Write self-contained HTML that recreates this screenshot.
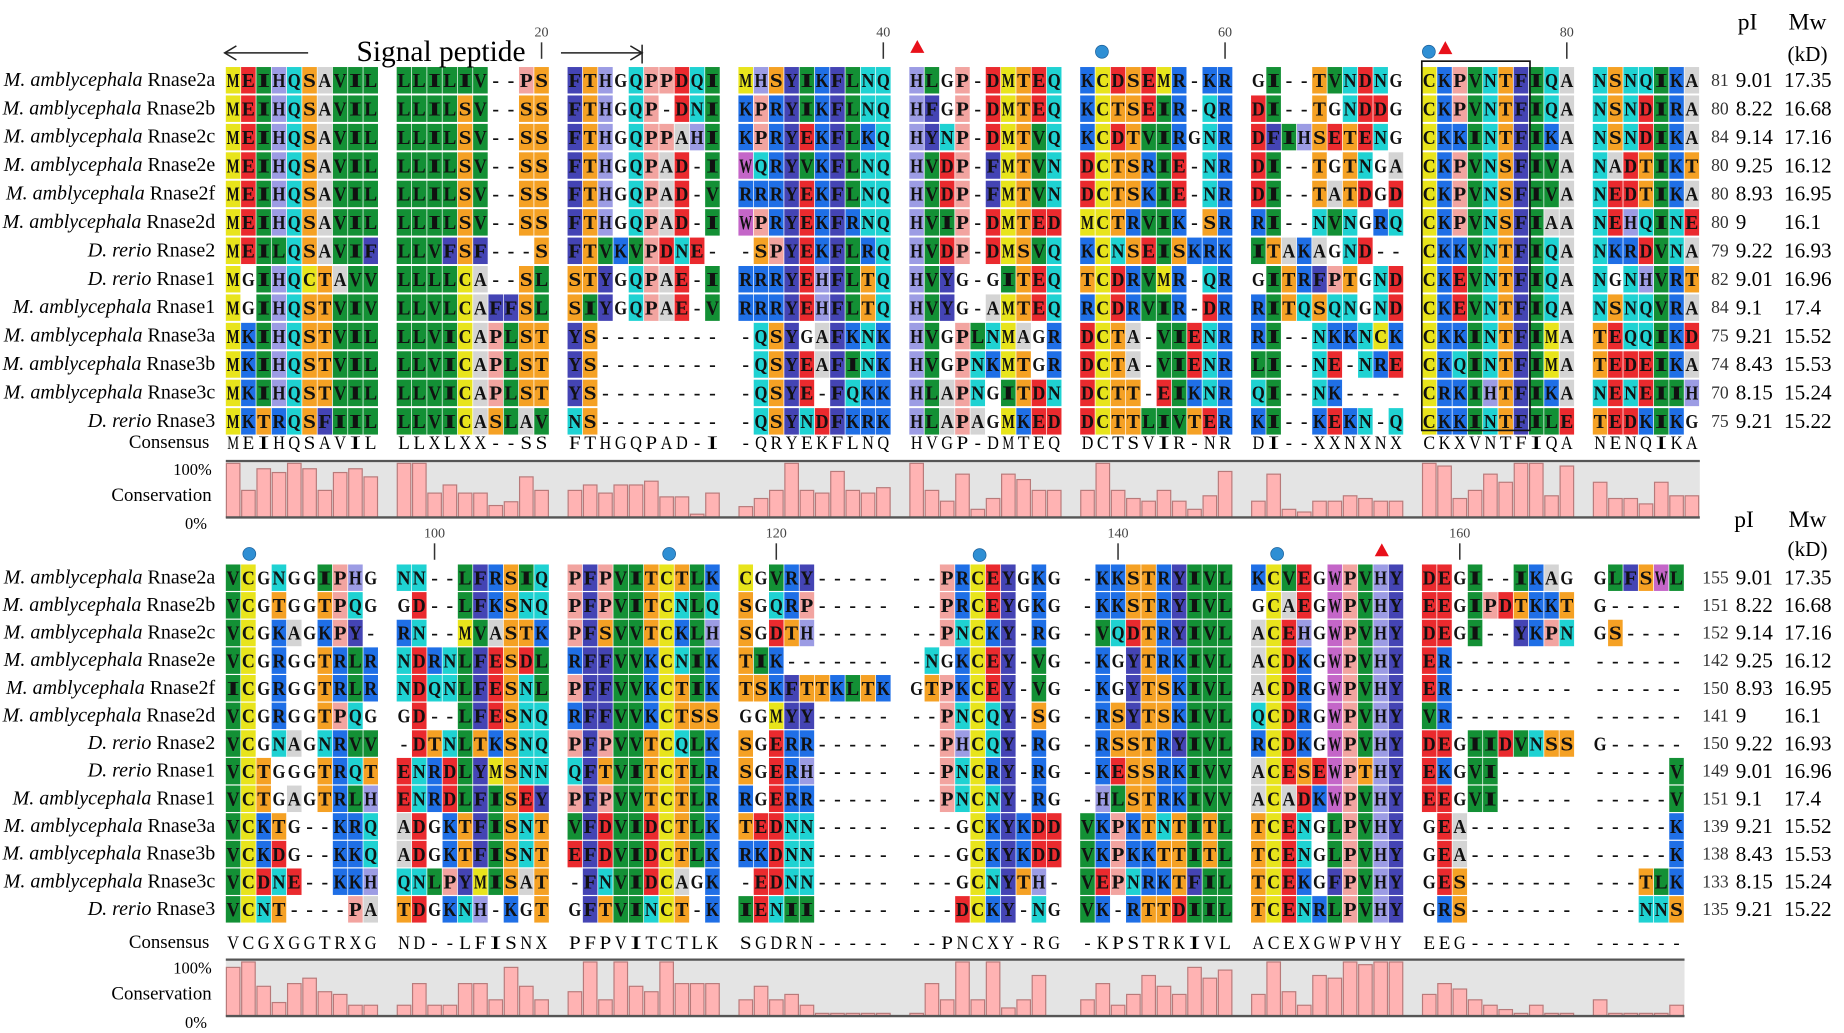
<!DOCTYPE html>
<html><head><meta charset="utf-8">
<style>
html,body{margin:0;padding:0;background:#fff;}
svg{display:block;}
</style></head>
<body>
<svg id="fig" xmlns="http://www.w3.org/2000/svg" width="1844" height="1033" viewBox="0 0 1568 878.4" font-family="'Liberation Serif', serif">
<g id="layer"></g>
</svg>
<script>
// ---- data ----
const species = [["M. amblycephala","Rnase2a"],["M. amblycephala","Rnase2b"],["M. amblycephala","Rnase2c"],["M. amblycephala","Rnase2e"],["M. amblycephala","Rnase2f"],["M. amblycephala","Rnase2d"],["D. rerio","Rnase2"],["D. rerio","Rnase1"],["M. amblycephala","Rnase1"],["M. amblycephala","Rnase3a"],["M. amblycephala","Rnase3b"],["M. amblycephala","Rnase3c"],["D. rerio","Rnase3"]];
const pI = ["9.01","8.22","9.14","9.25","8.93","9","9.22","9.01","9.1","9.21","8.43","8.15","9.21"];
const mw = ["17.35","16.68","17.16","16.12","16.95","16.1","16.93","16.96","17.4","15.52","15.53","15.24","15.22"];
const counts1 = ["81","80","84","80","80","80","79","82","84","75","74","70","75"];
const counts2 = ["155","151","152","142","150","141","150","149","151","139","138","133","135"];
const seq1 = [
"MEIHQSAVIL LLILIV--PS FTHGQPPDQI MHSYIKFLNQ HLGP-DMTEQ KCDSEMR-KR GI--TVNDNG CKPVNTFIQA NSNQIKA",
"MEIHQSAVIL LLILSV--SS FTHGQP-DNI KPRYIKFLNQ HFGP-DMTEQ KCTSEIR-QR DI--TGNDDG CKPVNTFIQA NSNDIRA",
"MEIHQSAVIL LLILSV--SS FTHGQPPAHI KPRYEKFLKQ HYNP-DMTVQ KCDTVIRGNR DFIHSETENG CKKINTFIKA NSNDIKA",
"MEIHQSAVIL LLILSV--SS FTHGQPAD-I WQRYVKFLNQ HVDP-FMTVN DCTSRIE-NR DI--TGTNGA CKPVNSFIVA NADTIKT",
"MEIHQSAVIL LLILSV--SS FTHGQPAD-V RRRYEKFLNQ HVDP-FMTVN DCTSKIE-NR DI--TATDGD CKPVNSFIVA NEDTIKA",
"MEIHQSAVIL LLILSV--SS FTHGQPAD-I WPRYEKFRNQ HVIP-DMTED MCTRVIK-SR RI--NVNGRQ CKPVNSFIAA NEHQINE",
"MEILQSAVIF LLVFSF---S FTVKVPDNE- -SPYEKFLRQ HVDP-DMSVQ KCNSEISKRK ITAKAGND-- CKKVNTFIQA NKRDVNA",
"MGIHQCTAVV LLLLCA--SL STYGQPAE-I RRRYEHFLTQ HVYG-GITEQ TCDRVMR-QR GITRFPTGND CKEVNTFIQA NGNHVRT",
"MGIHQSTVIV LLVLCAFFSL SIYGQPAE-V RRRYEHFLTQ HVYG-AMTEQ RCDRVIR-DR RITQSQNGND CKEVNTFIQA NSNQVRA",
"MKIHQSTVIL LLVICAPLST YS-------- -QSYGAFKNK HVGPLNMAGR DCTA-VIENR RI--NKKNCK CKKINTFIMA TEQQIKD",
"MKIHQSTVIL LLVICAPLST YS-------- -QSYEAFINK HVGPNKMTGR DCTA-VIENR LI--NE-NRE CKQINTFIMA TEDEIKA",
"MKIHQSTVIL LLVICAPLST YS-------- -QSYE-FQKK HLAPNGITDN DCTT-EIKNR QI--NK---- CRKIHTFIKA NENEIIH",
"MKTRQSFIIL LLVICASLAV NS-------- -QSYNDFKRK HLAPAGMKED DCTTLIVTER KI--KEKN-Q CKKINTFILE TEDKIKG"];
const seq2 = [
"VCGNGGIPHG NN--LFRSIQ PFPVITCTLK CGVRY----- --PRCEYGKG -KKSTRYIVL KCVEGWPVHY DEGI--IKAG GLFSWL",
"VCGTGGTPQG GD--LFKSNQ PFPVITCNLQ SGQRP----- --PRCEYGKG -KKSTRYIVL GCAEGWPVHY EEGIPDTKKT G-----",
"VCGKAGKPY- RN--MVASTK PFSVVTCKLH SGDTH----- --PNCKY-RG -VQDTRYIVL ACEHGWPVHY DEGI--YKPN GS----",
"VCGRGGTRLR NDRNLFESDL RFFVVKCNIK TIK------- -NGKCEY-VG -KGYTRKIVL ACDKGWPVHY ER-------- ------",
"ICGRGGTRLR NDQNLFESNL PFFVVKCTIK TSKFTTKLTK GTPKCEY-VG -KGYTSKIVL ACDRGWPVHY ER-------- ------",
"VCGRGGTPQG GD--LFESNQ RFFVVKCTSS GGMYY----- --PNCQY-SG -RSYTSKIVL QCDRGWPVHY VR-------- ------",
"VCGNAGNRVV -DTNLTKSNQ PFPVVTCQLK SGERR----- --PHCQY-RG -RSSTRYIVL RCDKGWPVHY DEGIIDVNSS G-----",
"VCTGGGTRQT ENRDLYMSNN QFTVITCTLR SGERH----- --PNCRY-RG -KESSRKIVV ACESEWPTHY EKGVI----- -----V",
"VCTGAGTRLH ENRDLFISEY PFPVVTCTLR RGERR----- --PNCNY-RG -HLSTRKIVV ACADKWPVHY EEGVI----- -----V",
"VCKTG--KRQ ADGKTFISNT VFDVIDCTLK TEDNN----- ---GCKYKDD VKPKTNTITL TCENGLPVHY GEA------- -----K",
"VCKDG--KKQ ADGKTFISNT EFDVIDCTLK RKDNN----- ---GCKYKDD VKPKKTTITL TCENGLPVHY GEA------- -----K",
"VCDNE--KKH QNLPYMISAT -FNVIDCAGK -EDNN----- ---GCNYTH- VEPNRKTFIL TCEKGFPVHY GES------- ---TLK",
"VCNT----PA TDGKNH-KGT GFTVINCT-K IENII----- ---DCKY-NG VK-RTTDIIL TCENRLPVHY GRS------- ---NNS"];
const consensus1 = "MEIHQSAVIL LLXLXX--SS FTHGQPAD-I -QRYEKFLNQ HVGP-DMTEQ DCTSVIR-NR DI--XXNXNX CKXVNTFIQA NENQIKA";
const consensus2 = "VCGXGGTRXG ND--LFISNX PFPVITCTLK SGDRN----- --PNCXY-RG -KPSTRKIVL ACEXGWPVHY EEG------- ------";
const conservation1 = [
 [1.0,0.5,0.9,0.83,1.0,0.9,0.5,0.83,0.9,0.75],
 [1.0,1.0,0.45,0.6,0.45,0.45,0.22,0.29,0.75,0.5],
 [0.5,0.6,0.45,0.6,0.6,0.67,0.38,0.38,0.06,0.45],
 [0.2,0.35,0.5,1.0,0.5,0.45,0.85,0.5,0.45,0.55],
 [1.0,0.5,0.3,0.8,0.15,0.35,0.8,0.7,0.5,0.5],
 [0.5,1.0,0.5,0.35,0.3,0.5,0.3,0.15,0.4,0.85],
 [0.3,0.8,0.15,0.1,0.3,0.3,0.4,0.35,0.3,0.3],
 [1.0,0.95,0.35,0.5,0.8,0.65,1.0,1.0,0.4,0.95],
 [0.65,0.35,0.35,0.25,0.65,0.4,0.4]];
const conservation2 = [
 [0.9,1.0,0.55,0.25,0.6,0.7,0.45,0.4,0.2,0.2],
 [0.2,0.6,0.2,0.2,0.6,0.6,0.3,0.9,0.55,0.3],
 [0.45,1.0,0.3,1.0,0.55,0.45,1.0,0.6,0.6,0.6],
 [0.3,0.55,0.3,0.4,0.2,0.05,0.05,0.05,0.05,0.05],
 [0.05,0.6,0.3,1.0,0.3,1.0,0.15,0.3,0.75,0.0],
 [0.3,0.6,0.2,0.4,0.75,0.55,0.4,0.9,0.7,0.85],
 [0.4,1.0,0.45,0.2,0.75,0.7,1.0,0.95,1.0,1.0],
 [0.4,0.6,0.5,0.3,0.2,0.12,0.05,0.2,0.05,0.05],
 [0.3,0.05,0.05,0.05,0.05,0.2]];
const ticks1 = [20,40,60,80];
const ticks2 = [100,120,140,160];

// ---- layout ----
const NS = "http://www.w3.org/2000/svg";
const L = document.getElementById('layer');
const colors = {M:"#e8e41c",C:"#e8e41c",E:"#ea2a2e",D:"#ea2a2e",K:"#1f6fe6",R:"#1f6fe6",N:"#1fd2d2",Q:"#1fd2d2",S:"#f5a124",T:"#f5a124",A:"#d4d4d4",P:"#f2a4a0",H:"#9c9ce4",F:"#4444b4",Y:"#4444b4",W:"#c466c8",L:"#139035",I:"#139035",V:"#139035",G:"#f4f4f4"};
function el(tag, attrs, parent){const e=document.createElementNS(NS,tag);for(const k in attrs)e.setAttribute(k,attrs[k]);(parent||L).appendChild(e);return e;}
function colX(g,c){return 192+g*145.3+c*13;}
function txt(x,y,s,attrs){const t=el('text',Object.assign({x:x,y:y},attrs||{}));t.textContent=s;return t;}

function drawBlock(seqs, cons, consv, ticks, y0, dy, consY, boxTop, boxBot, counts, tickY, startPos){
  seqs.forEach((row,r)=>{
    const y=y0+r*dy;
    const groups=row.split(' ');
    const lab=el('text',{x:183,y:y+5,'text-anchor':'end','font-size':17});
    
    
    const t1=el('tspan',{'font-style':'italic'},lab);t1.textContent=species[r][0]+' ';
    const t2=el('tspan',{},lab);t2.textContent=species[r][1];
    groups.forEach((gs,g)=>{
      for(let c=0;c<gs.length;c++){
        const ch=gs[c];const x=colX(g,c);
        if(ch!=='-' && colors[ch] && ch!=='G'){
          const rc=el('rect',{x:x,y:y-11,width:12.4,height:22.5,fill:colors[ch]});
          
          
        }
        const t=txt(x+6.2,y+6,ch,{'text-anchor':'middle','font-size':17,'font-weight':'bold',fill:'#111'});
        if(ch!=='-'){t.setAttribute('textLength','11');t.setAttribute('lengthAdjust','spacingAndGlyphs');}
      }
    });
    const cn=txt(1470,y+5,counts[r],{'text-anchor':'end','font-size':15,fill:'#333'});
    
    
    const p=txt(1476,y+6,pI[r],{'font-size':18});
    
    
    const m=txt(1517,y+6,mw[r],{'font-size':18});
    
    
  });
  const cl=txt(178,consY+5,'Consensus',{'text-anchor':'end','font-size':16});
  
  
  cons.split(' ').forEach((gs,g)=>{
    for(let c=0;c<gs.length;c++){
      const t=txt(colX(g,c)+6.2,consY+6,gs[c],{'text-anchor':'middle','font-size':16});
      if(gs[c]!=='-'){t.setAttribute('textLength','10');t.setAttribute('lengthAdjust','spacingAndGlyphs');}
      
      
    }
  });
  const lastG=consv.length-1;
  const boxR=colX(lastG,consv[lastG].length);
  const bx=el('rect',{x:192,y:boxTop,width:boxR-192,height:boxBot-boxTop,fill:'#e4e4e4'});
  
  
  el('line',{x1:192,x2:boxR,y1:boxTop,y2:boxTop,stroke:'#555','stroke-width':2});
  const h=boxBot-boxTop-2;
  consv.forEach((arr,g)=>{arr.forEach((v,c)=>{
    if(v<=0)return;
    const bh=v*h;
    const b=el('rect',{x:colX(g,c)+0.5,y:boxBot-bh,width:11.5,height:bh,fill:'#ffb3b3',stroke:'#b87a7a','stroke-width':1});
    
    
  });});
  el('line',{x1:192,x2:boxR,y1:boxBot,y2:boxBot,stroke:'#555','stroke-width':2});
  const a=txt(180,boxTop+12,'100%',{'text-anchor':'end','font-size':14});
  
  const b2=txt(180,(boxTop+boxBot)/2+10,'Conservation',{'text-anchor':'end','font-size':16});
  
  const z=txt(176,boxBot+10,'0%',{'text-anchor':'end','font-size':14});
  
  ticks.forEach(tv=>{
    const idx=tv-startPos; const g=Math.floor(idx/10), c=idx%10;
    const x=colX(g,c)+6.2;
    const tl=txt(x,tickY,String(tv),{'text-anchor':'middle','font-size':12,fill:'#444'});
    
    
    el('line',{x1:x,x2:x,y1:tickY+5,y2:tickY+19,stroke:'#333','stroke-width':1.3});
  });
}
drawBlock(seq1,consensus1,conservation1,ticks1,68,24.17,376,392,440,counts1,31,1);
drawBlock(seq2,consensus2,conservation2,ticks2,491,23.5,801,816,864,counts2,457,88);

function hdr(x,y,s,fs,name){const t=txt(x,y,s,{'font-size':fs,'text-anchor':'middle'});}
hdr(1486,25,'pI',20,'pi-header');hdr(1537,25,'Mw',20,'mw-header');hdr(1537,52,'(kD)',18,'kd-header');
hdr(1483,448,'pI',20,'pi-header');hdr(1537,448,'Mw',20,'mw-header');hdr(1537,473,'(kD)',18,'kd-header');
const sp=txt(375,52,'Signal peptide',{'font-size':25,'text-anchor':'middle'});

el('line',{x1:191,x2:262,y1:45,y2:45,stroke:'#222','stroke-width':1.3});
el('path',{d:'M201 39 L191 45 L201 51',fill:'none',stroke:'#222','stroke-width':1.3});
el('line',{x1:477,x2:546,y1:45,y2:45,stroke:'#222','stroke-width':1.3});
el('path',{d:'M536 39 L546 45 L536 51',fill:'none',stroke:'#222','stroke-width':1.3});
el('line',{x1:546,x2:546,y1:38,y2:54,stroke:'#222','stroke-width':1.3});
function tri(x,y){const p=el('path',{d:`M${x} ${y-7} L${x+6} ${y+4} L${x-6} ${y+4} Z`,fill:'#e8101a'});}
function circ(x,y){const c=el('circle',{cx:x,cy:y,r:5.5,fill:'#2f8fd4',stroke:'#1b5f99','stroke-width':0.6});}
tri(780,41);circ(937,44);circ(1215,44);tri(1229,42);
circ(212,471);circ(569,471);circ(833,472);circ(1086,471);tri(1175,469);
const bxx=el('rect',{x:1209,y:52,width:92,height:314,fill:'none',stroke:'#111','stroke-width':1.4});

</script>
</body></html>
